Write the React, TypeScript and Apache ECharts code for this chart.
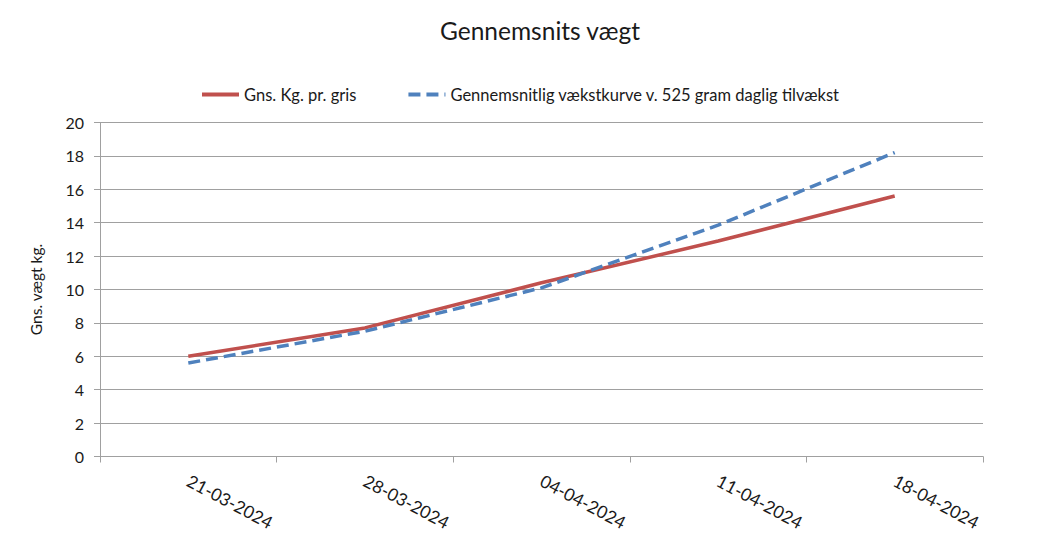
import React, { useEffect, useRef } from "react";
import * as echarts from "echarts";

const titleText = "Gennemsnits vægt";
const yAxisName = "Gns. vægt kg.";
const categories = ["21-03-2024", "28-03-2024", "04-04-2024", "11-04-2024", "18-04-2024"];
const seriesActualName = "Gns. Kg. pr. gris";
const seriesActual = [6.0, 7.7, 10.4, 12.9, 15.6];
const seriesCurveName = "Gennemsnitlig vækstkurve v. 525 gram daglig tilvækst";
const seriesCurve = [5.6, 7.5, 10.1, 13.85, 18.2];

const FONT = "Lato";

export default function App() {
  const ref = useRef<HTMLDivElement>(null);
  useEffect(() => {
    if (!ref.current) return;
    const chart = echarts.init(ref.current, undefined, { renderer: "svg" });
    chart.setOption({
      animation: false,
      backgroundColor: "#ffffff",
      textStyle: { fontFamily: FONT },
      title: {
        text: titleText,
        left: 440,
        top: 18,
        padding: 0,
        textStyle: { fontFamily: FONT, fontSize: 24.5, fontWeight: "normal", color: "#1a1a1a" },
      },
      legend: {
        top: 86,
        left: 200,
        padding: 0,
        itemWidth: 37,
        itemHeight: 14,
        itemGap: 50,
        itemStyle: { opacity: 0, borderWidth: 0 },
        lineStyle: { width: 4 },
        textStyle: { fontFamily: FONT, fontSize: 16.5, color: "#1a1a1a" },
        data: [seriesActualName, seriesCurveName],
      },
      grid: { left: 100, right: 72, top: 122.5, bottom: 98.5, containLabel: false },
      xAxis: {
        type: "category",
        data: categories,
        boundaryGap: true,
        axisLine: { show: true, lineStyle: { color: "#a0a0a0", width: 1 } },
        axisTick: { show: true, interval: 0, length: 6, lineStyle: { color: "#a0a0a0" } },
        axisLabel: {
          interval: 0,
          rotate: -28,
          margin: 23,
          fontFamily: FONT,
          fontSize: 17.5,
          color: "#1a1a1a",
        },
        splitLine: { show: false },
      },
      yAxis: {
        type: "value",
        min: 0,
        max: 20,
        interval: 2,
        name: yAxisName,
        nameLocation: "middle",
        nameGap: 56,
        nameTextStyle: { fontFamily: FONT, fontSize: 15.5, color: "#1a1a1a" },
        axisLine: { show: true, lineStyle: { color: "#a0a0a0", width: 1 } },
        axisTick: { show: true, length: 6, lineStyle: { color: "#a0a0a0" } },
        axisLabel: { margin: 16, fontFamily: FONT, fontSize: 16, color: "#1a1a1a" },
        splitLine: { show: true, lineStyle: { color: "#a0a0a0", width: 1 } },
      },
      series: [
        {
          name: seriesActualName,
          type: "line",
          data: seriesActual,
          symbol: "none",
          lineStyle: { color: "#C0504D", width: 3.5 },
          itemStyle: { color: "#C0504D" },
        },
        {
          name: seriesCurveName,
          type: "line",
          data: seriesCurve,
          symbol: "none",
          lineStyle: { color: "#4F81BD", width: 3.5, type: [12, 6] },
          itemStyle: { color: "#4F81BD" },
        },
      ],
    });
    return () => chart.dispose();
  }, []);
  return (
    <div
      ref={ref}
      style={{ position: "fixed", left: 0, top: 0, width: 1055, height: 555 }}
    />
  );
}
